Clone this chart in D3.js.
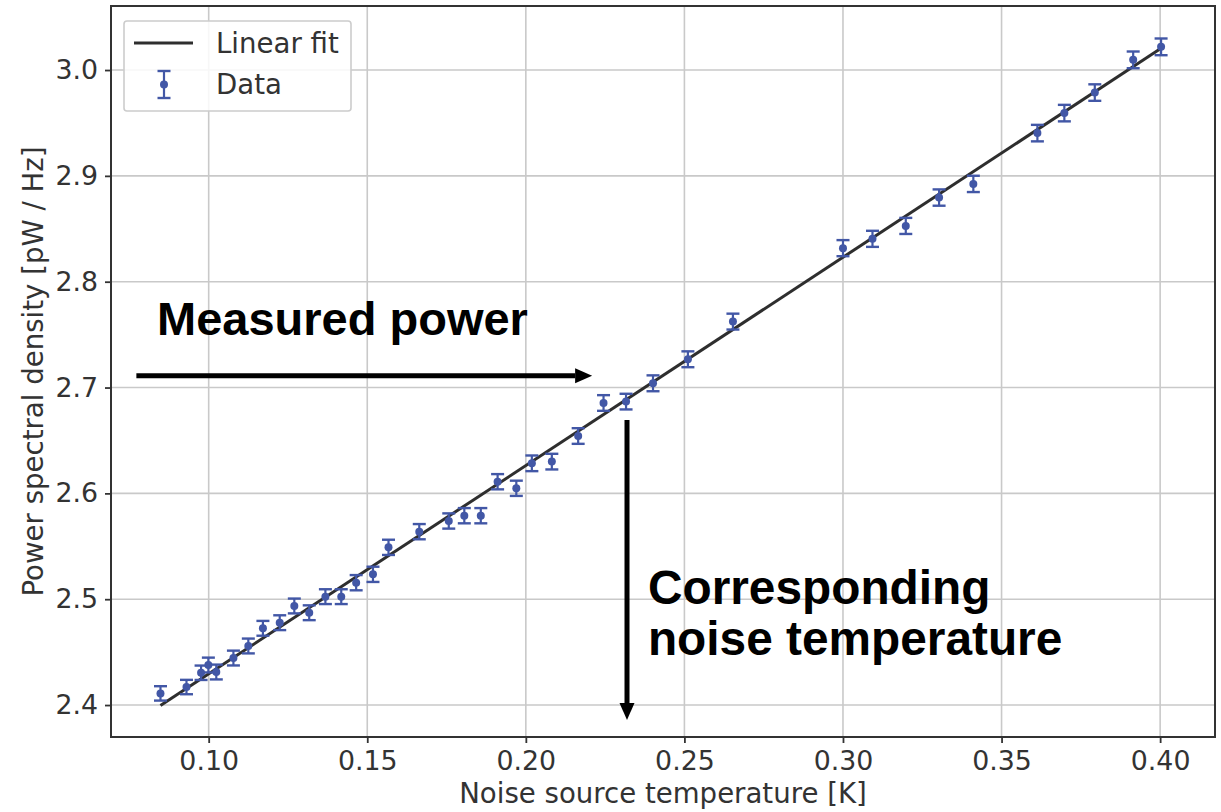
<!DOCTYPE html>
<html>
<head>
<meta charset="utf-8">
<script src="https://cdn.jsdelivr.net/npm/d3@7"></script>
<style>
  html, body { margin: 0; padding: 0; background: #fff; }
  svg { display: block; }
  .tick text { font-family: "DejaVu Sans", sans-serif; }
</style>
</head>
<body>
<svg id="chart" width="1221" height="812"></svg>
<script>
// Noise source temperature [K]
const temps = [0.0848, 0.0930, 0.0976, 0.0999, 0.1024, 0.1078, 0.1125, 0.1171, 0.1224, 0.1270,
               0.1317, 0.1368, 0.1418, 0.1465, 0.1518, 0.1567, 0.1664, 0.1757, 0.1806, 0.1858,
               0.1911, 0.1970, 0.2019, 0.2082, 0.2165, 0.2245, 0.2316, 0.2401, 0.2511, 0.2653,
               0.3000, 0.3093, 0.3198, 0.3303, 0.3411, 0.3613, 0.3698, 0.3794, 0.3915, 0.4003];
// Measured power spectral density [pW / Hz]
const psd = [2.4110, 2.4170, 2.4305, 2.4378, 2.4312, 2.4444, 2.4558, 2.4725, 2.4778, 2.4936,
             2.4872, 2.5024, 2.5024, 2.5156, 2.5235, 2.5490, 2.5638, 2.5739, 2.5789, 2.5789,
             2.6110, 2.6048, 2.6284, 2.6300, 2.6542, 2.6854, 2.6867, 2.7040, 2.7267, 2.7623,
             2.8317, 2.8405, 2.8527, 2.8795, 2.8924, 2.9404, 2.9593, 2.9787, 3.0096, 3.0219];
// One-sigma uncertainty on each PSD point
const psdErr = [0.0068, 0.0068, 0.0068, 0.0070, 0.0070, 0.0070, 0.0070, 0.0070, 0.0070, 0.0070,
                0.0070, 0.0070, 0.0070, 0.0072, 0.0072, 0.0072, 0.0072, 0.0072, 0.0072, 0.0072,
                0.0072, 0.0072, 0.0074, 0.0074, 0.0074, 0.0074, 0.0074, 0.0075, 0.0075, 0.0075,
                0.0076, 0.0076, 0.0076, 0.0077, 0.0077, 0.0078, 0.0078, 0.0078, 0.0079, 0.0079];

// Linear fit parameters: psd = slope * T + intercept
const fitSlope = 1.968;
const fitIntercept = 2.2327;

const xTicks = [0.10, 0.15, 0.20, 0.25, 0.30, 0.35, 0.40];
const yTicks = [2.4, 2.5, 2.6, 2.7, 2.8, 2.9, 3.0];

// Annotation anchors in data coordinates
const powerArrow = { x0: 0.0772, x1: 0.2209, y: 2.7112 };
const tempArrow = { x: 0.2319, y0: 2.6694, y1: 2.3858 };
const powerLabel = { x: 0.0837, y: 2.7497, text: "Measured power" };
const tempLabel = { x: 0.2385, y: 2.4950, lines: ["Corresponding", "noise temperature"] };

const svg = d3.select("#chart");
const plot = { left: 111, right: 1215, top: 6, bottom: 737 };

const x = d3.scaleLinear().domain([0.0692, 0.4173]).range([plot.left, plot.right]);
const y = d3.scaleLinear().domain([2.3698, 3.0605]).range([plot.bottom, plot.top]);

const textColor = "#333333";
const gridColor = "#c9c9c9";
const dataColor = "#4257a6";
const labelSize = 27.6;

// Grid
svg.append("g")
  .selectAll("line").data(xTicks).join("line")
  .attr("x1", d => x(d)).attr("x2", d => x(d))
  .attr("y1", plot.top).attr("y2", plot.bottom)
  .attr("stroke", gridColor).attr("stroke-width", 1.6);
svg.append("g")
  .selectAll("line").data(yTicks).join("line")
  .attr("x1", plot.left).attr("x2", plot.right)
  .attr("y1", d => y(d)).attr("y2", d => y(d))
  .attr("stroke", gridColor).attr("stroke-width", 1.6);

// Axes
const xAxis = svg.append("g")
  .attr("transform", `translate(0,${plot.bottom})`)
  .call(d3.axisBottom(x).tickValues(xTicks).tickFormat(d3.format(".2f")).tickSize(6).tickPadding(8));
const yAxis = svg.append("g")
  .attr("transform", `translate(${plot.left},0)`)
  .call(d3.axisLeft(y).tickValues(yTicks).tickFormat(d3.format(".1f")).tickSize(6).tickPadding(7));
[xAxis, yAxis].forEach(a => {
  a.select(".domain").remove();
  a.selectAll(".tick line").attr("stroke", textColor).attr("stroke-width", 1.8);
  a.selectAll(".tick text").attr("fill", textColor).attr("font-size", 26.8);
});

// Frame
svg.append("rect")
  .attr("x", plot.left).attr("y", plot.top)
  .attr("width", plot.right - plot.left).attr("height", plot.bottom - plot.top)
  .attr("fill", "none").attr("stroke", textColor).attr("stroke-width", 2);

// Axis labels
svg.append("text")
  .attr("x", (plot.left + plot.right) / 2).attr("y", 803)
  .attr("text-anchor", "middle")
  .attr("font-family", "DejaVu Sans, sans-serif").attr("font-size", labelSize)
  .attr("fill", textColor)
  .text("Noise source temperature [K]");
svg.append("text")
  .attr("transform", `translate(43,${(plot.top + plot.bottom) / 2}) rotate(-90)`)
  .attr("text-anchor", "middle")
  .attr("font-family", "DejaVu Sans, sans-serif").attr("font-size", labelSize)
  .attr("fill", textColor)
  .text("Power spectral density [pW / Hz]");

// Linear fit
const tMin = d3.min(temps), tMax = d3.max(temps);
svg.append("line")
  .attr("x1", x(tMin)).attr("y1", y(fitSlope * tMin + fitIntercept))
  .attr("x2", x(tMax)).attr("y2", y(fitSlope * tMax + fitIntercept))
  .attr("stroke", "#2e2e2e").attr("stroke-width", 3);

// Data with error bars
const pts = temps.map((t, i) => ({ t, p: psd[i], e: psdErr[i] }));
const eb = svg.append("g").selectAll("g").data(pts).join("g");
eb.append("line")
  .attr("x1", d => x(d.t)).attr("x2", d => x(d.t))
  .attr("y1", d => y(d.p - d.e)).attr("y2", d => y(d.p + d.e))
  .attr("stroke", dataColor).attr("stroke-width", 2.2);
[-1, 1].forEach(s => {
  eb.append("line")
    .attr("x1", d => x(d.t) - 6.5).attr("x2", d => x(d.t) + 6.5)
    .attr("y1", d => y(d.p + s * d.e)).attr("y2", d => y(d.p + s * d.e))
    .attr("stroke", dataColor).attr("stroke-width", 2.4);
});
eb.append("circle")
  .attr("cx", d => x(d.t)).attr("cy", d => y(d.p)).attr("r", 4)
  .attr("fill", dataColor);

// Annotation arrows
function arrow(x0, y0, x1, y1) {
  const ang = Math.atan2(y1 - y0, x1 - x0);
  const headLen = 17, headHalf = 7.5;
  const bx = x1 - headLen * Math.cos(ang), by = y1 - headLen * Math.sin(ang);
  svg.append("line")
    .attr("x1", x0).attr("y1", y0).attr("x2", bx).attr("y2", by)
    .attr("stroke", "#000").attr("stroke-width", 5);
  const nx = -Math.sin(ang) * headHalf, ny = Math.cos(ang) * headHalf;
  svg.append("path")
    .attr("d", `M${x1},${y1}L${bx + nx},${by + ny}L${bx - nx},${by - ny}Z`)
    .attr("fill", "#000");
}
arrow(x(powerArrow.x0), y(powerArrow.y), x(powerArrow.x1), y(powerArrow.y));
arrow(x(tempArrow.x), y(tempArrow.y0), x(tempArrow.x), y(tempArrow.y1));

// Annotation text
const annFont = "Liberation Sans, Arial, Helvetica, sans-serif";
svg.append("text")
  .attr("x", x(powerLabel.x)).attr("y", y(powerLabel.y))
  .attr("font-family", annFont).attr("font-weight", "bold").attr("font-size", 47)
  .attr("fill", "#000").text(powerLabel.text);
tempLabel.lines.forEach((line, i) => {
  svg.append("text")
    .attr("x", x(tempLabel.x)).attr("y", y(tempLabel.y) + i * 51)
    .attr("font-family", annFont).attr("font-weight", "bold").attr("font-size", 47.8)
    .attr("fill", "#000").text(line);
});

// Legend
const lg = svg.append("g");
lg.append("rect")
  .attr("x", 124).attr("y", 21).attr("width", 227).attr("height", 90).attr("rx", 3)
  .attr("fill", "#fff").attr("fill-opacity", 0.85)
  .attr("stroke", "#cccccc").attr("stroke-width", 1.6);
lg.append("line")
  .attr("x1", 134).attr("x2", 193).attr("y1", 43).attr("y2", 43)
  .attr("stroke", "#2e2e2e").attr("stroke-width", 3);
lg.append("line")
  .attr("x1", 164).attr("x2", 164).attr("y1", 71).attr("y2", 98)
  .attr("stroke", dataColor).attr("stroke-width", 2.2);
[71, 98].forEach(cy => lg.append("line")
  .attr("x1", 157.5).attr("x2", 170.5).attr("y1", cy).attr("y2", cy)
  .attr("stroke", dataColor).attr("stroke-width", 2.4));
lg.append("circle").attr("cx", 164).attr("cy", 84.5).attr("r", 4).attr("fill", dataColor);
[["Linear fit", 53], ["Data", 94]].forEach(([t, by]) => lg.append("text")
  .attr("x", 216).attr("y", by)
  .attr("font-family", "DejaVu Sans, sans-serif").attr("font-size", labelSize)
  .attr("fill", textColor).text(t));
</script>
</body>
</html>
